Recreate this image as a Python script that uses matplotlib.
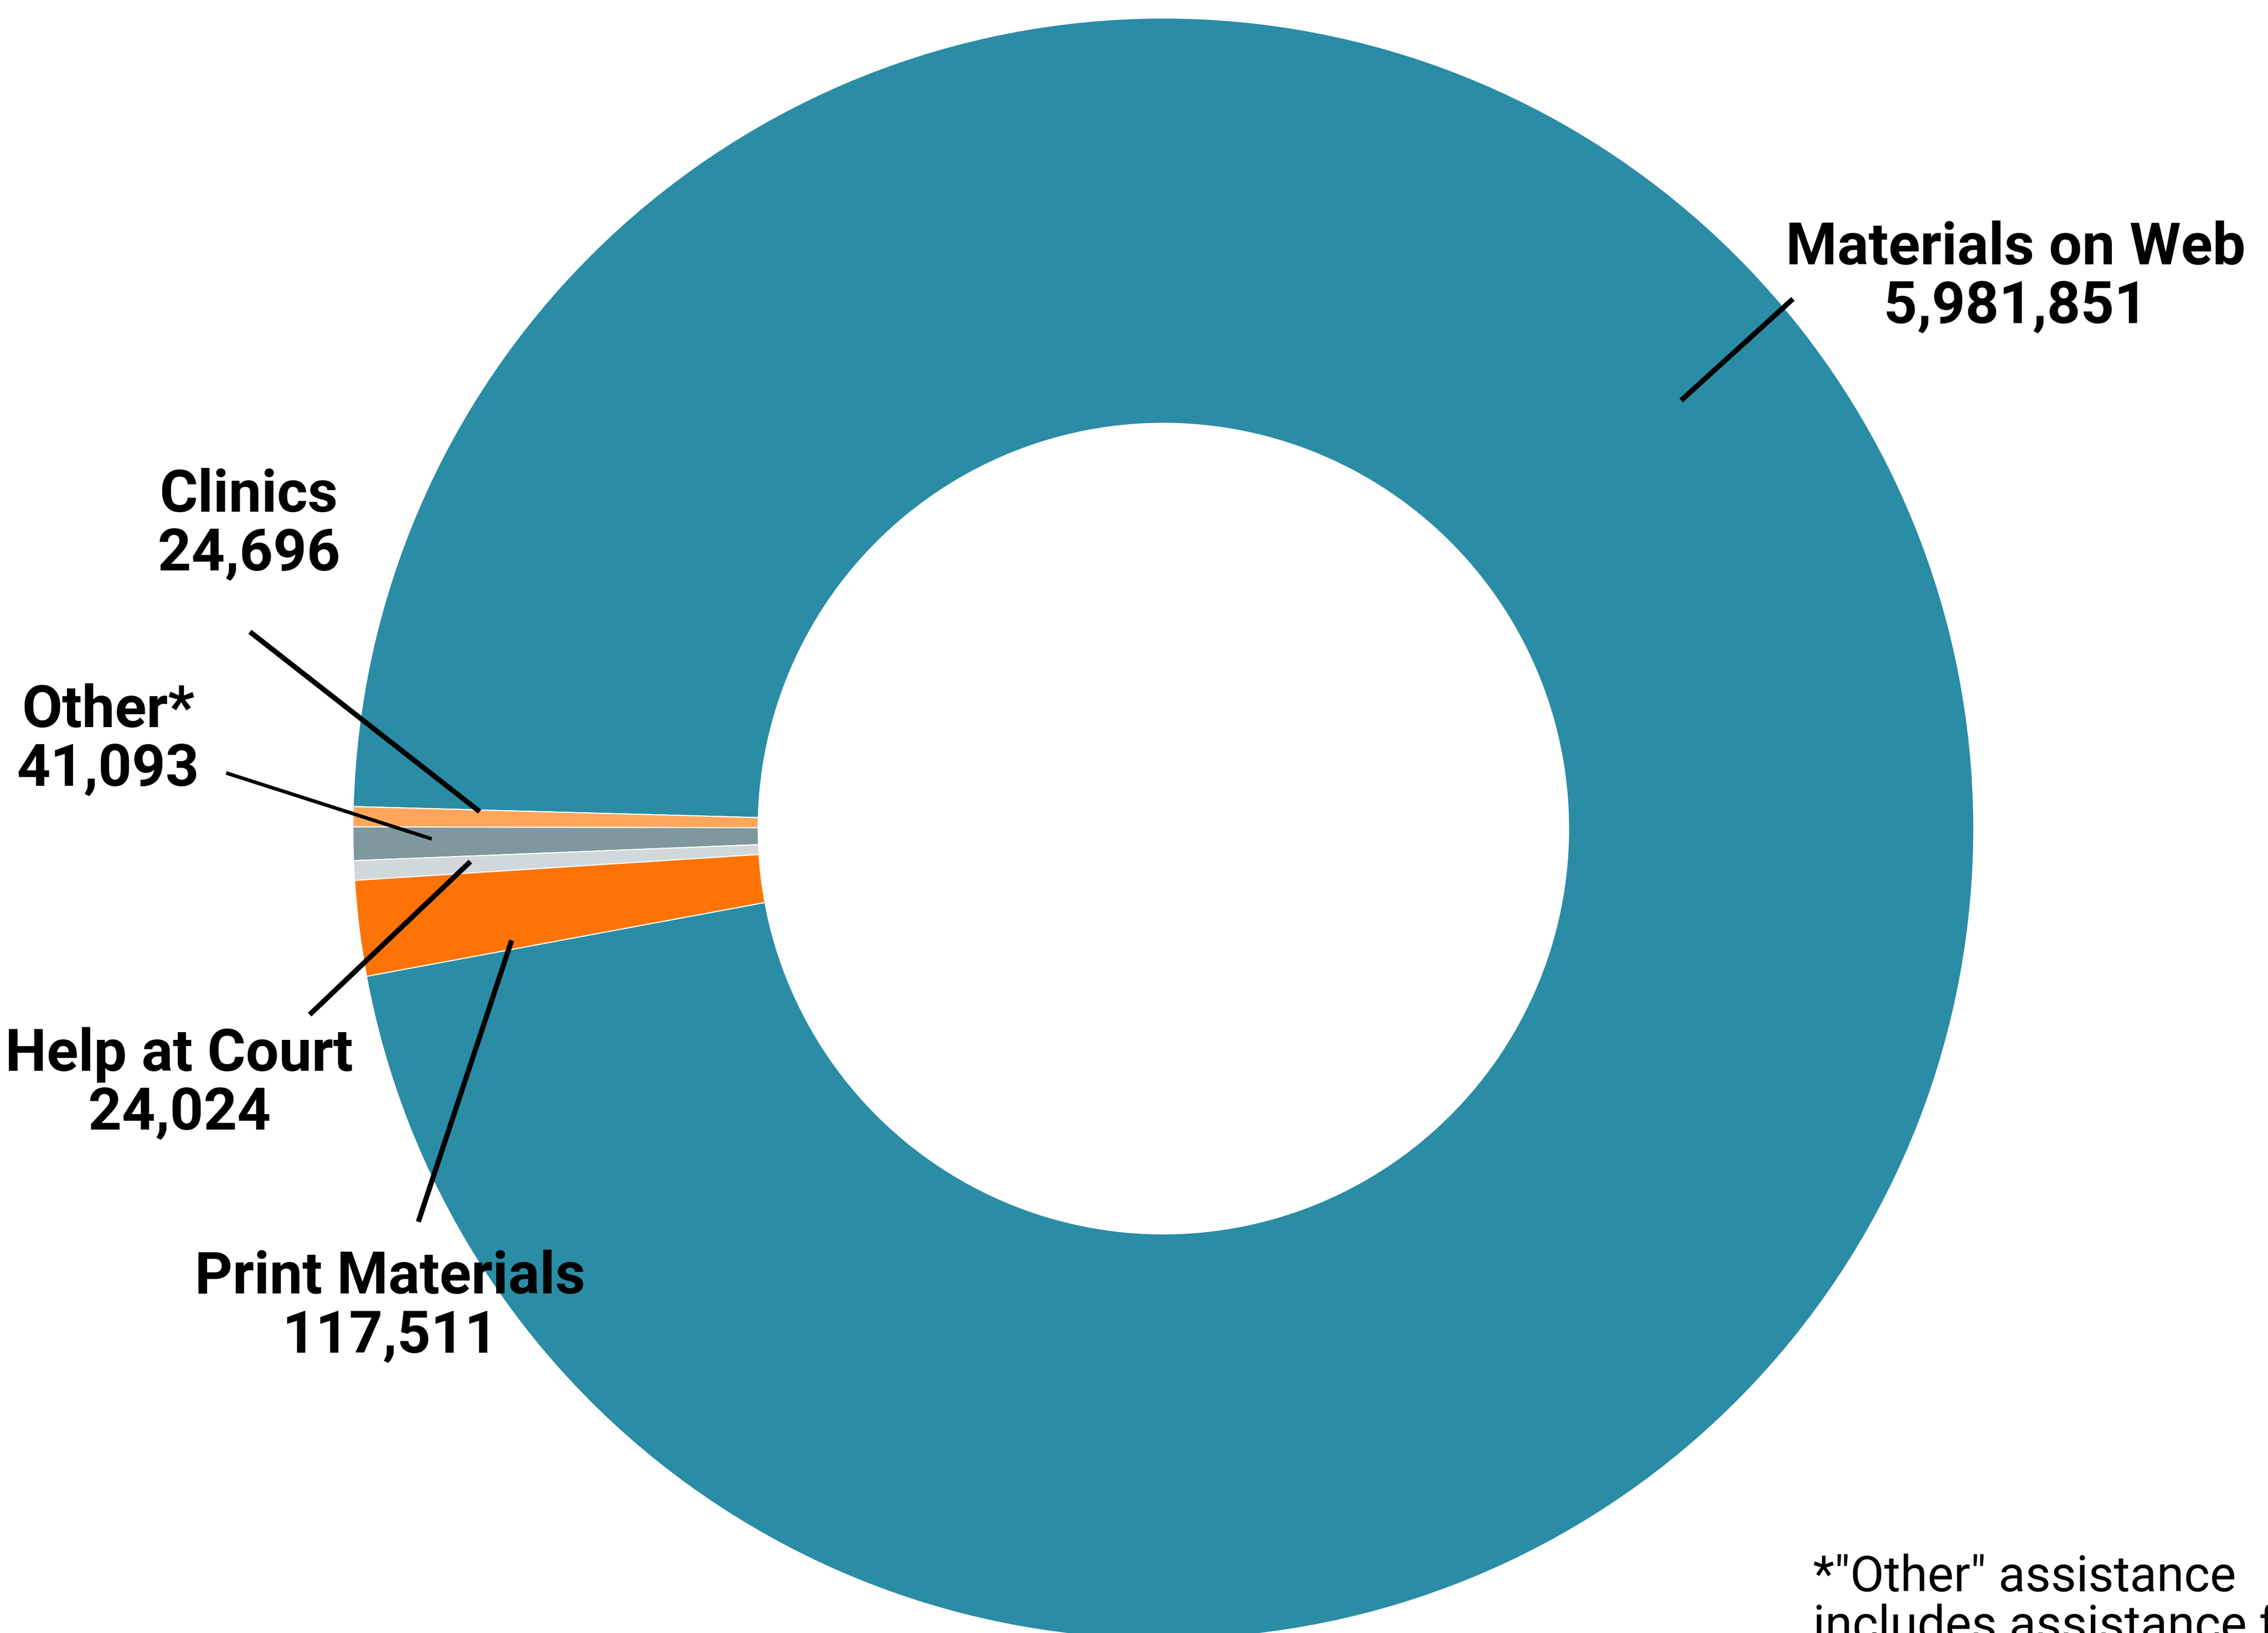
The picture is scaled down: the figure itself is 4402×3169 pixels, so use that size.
import matplotlib
matplotlib.use("Agg")
import matplotlib.pyplot as plt

# data
labels = ["Materials on Web", "Clinics", "Other*", "Help at Court", "Print Materials"]
values = [5981851, 24696, 41093, 24024, 117511]
colors = ["#2a8ca5", "#ffa65c", "#7e989d", "#d0d8db", "#fd7305"]

footnote = ["*\"Other\" assistance", "includes assistance from"]

# layout (pixel coords, y measured from top of image)
W, H = 4402, 3169
cx, cy = 2258, 1608
R = 1573

label_pos = [(3912, 513), (483, 993), (210, 1411), (348, 2078), (757, 2510)]
leader_lines = [
    ((3263, 777), (3480, 580), 7.2),
    ((485, 1226), (931, 1575), 7.2),
    ((439, 1500), (838, 1628), 5.0),
    ((913, 1672), (601, 1969), 7.2),
    ((993, 1825), (812, 2371), 7.2),
]


def Y(y):
    return H - y


fig = plt.figure(figsize=(W / 100, H / 100), dpi=100)
ax = fig.add_axes([0, 0, 1, 1])

ax.pie(values, colors=colors, startangle=-169.5, counterclock=True,
       radius=R, center=(cx, Y(cy)),
       wedgeprops=dict(width=R / 2, edgecolor="white", linewidth=1.5))

for (p0, p1, lw) in leader_lines:
    ax.plot([p0[0], p1[0]], [Y(p0[1]), Y(p1[1])], color="black", lw=lw,
            solid_capstyle="butt")

line_gap = 114
for lab, val, (x, y) in zip(labels, values, label_pos):
    ax.text(x, Y(y), lab, ha="center", va="baseline", fontsize=82,
            fontfamily="Roboto", fontweight="bold")
    ax.text(x, Y(y + line_gap), f"{val:,}", ha="center", va="baseline",
            fontsize=82, fontfamily="Roboto", fontweight="bold")

ax.text(3519, Y(3088), footnote[0], ha="left", va="baseline", fontsize=69,
        fontfamily="Roboto")
ax.text(3519, Y(3088 + 96), footnote[1], ha="left", va="baseline", fontsize=69,
        fontfamily="Roboto")

ax.set_xlim(0, W)
ax.set_ylim(0, H)
ax.set_aspect("equal")
ax.axis("off")

fig.savefig("out.png", dpi=100, facecolor="white")
